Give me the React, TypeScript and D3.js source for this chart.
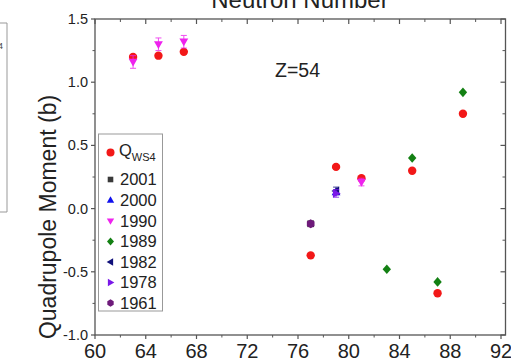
import React from "react";
import * as d3 from "d3";

const seriesNames = ["QWS4", "2001", "2000", "1990", "1989", "1982", "1978", "1961"];
const seriesColors = ["#f21818", "#3a3a3a", "#1010ee", "#ee22ee", "#138013", "#10107a", "#7a18e8", "#6e1a7a"];
const seriesShapes = ["circle", "square", "triUp", "triDown", "diamond", "triLeft", "triRight", "hexagon"];

const qws4N = [63, 65, 67, 77, 79, 81, 85, 87, 89];
const qws4Q = [1.20, 1.21, 1.24, -0.37, 0.33, 0.24, 0.30, -0.67, 0.75];
const y2001N = [77];
const y2001Q = [-0.12];
const y2000N = [79];
const y2000Q = [0.13];
const y1990N = [63, 65, 67, 81];
const y1990Q = [1.16, 1.30, 1.32, 0.21];
const y1990E = [0.05, 0.05, 0.05, 0.03];
const y1989N = [83, 85, 87, 89];
const y1989Q = [-0.48, 0.40, -0.58, 0.92];
const y1982N = [79];
const y1982Q = [0.14];
const y1982E = [0.03];
const y1978N = [79];
const y1978Q = [0.12];
const y1978E = [0.03];
const y1961N = [77];
const y1961Q = [-0.12];

const xMajor = [60, 64, 68, 72, 76, 80, 84, 88, 92];
const xMinor = [62, 66, 70, 74, 78, 82, 86, 90];
const yMajor = [-1.0, -0.5, 0.0, 0.5, 1.0, 1.5];
const yMinor = [-0.75, -0.25, 0.25, 0.75, 1.25];

const seriesN = [qws4N, y2001N, y2000N, y1990N, y1989N, y1982N, y1978N, y1961N];
const seriesQ = [qws4Q, y2001Q, y2000Q, y1990Q, y1989Q, y1982Q, y1978Q, y1961Q];
const seriesE: (number[] | null)[] = [null, null, null, y1990E, null, y1982E, y1978E, null];

const FONT = "'Liberation Sans', Arial, sans-serif";

function shapePath(shape: string, s: number): string {
  switch (shape) {
    case "circle":
      return d3.symbol(d3.symbolCircle, Math.PI * s * s)() as string;
    case "square":
      return `M${-s * 0.8},${-s * 0.8}H${s * 0.8}V${s * 0.8}H${-s * 0.8}Z`;
    case "triUp":
      return `M0,${-s * 1.1}L${s * 1.05},${s * 0.75}L${-s * 1.05},${s * 0.75}Z`;
    case "triDown":
      return `M0,${s * 1.1}L${s * 1.05},${-s * 0.75}L${-s * 1.05},${-s * 0.75}Z`;
    case "triLeft":
      return `M${-s * 1.1},0L${s * 0.75},${-s * 1.05}L${s * 0.75},${s * 1.05}Z`;
    case "triRight":
      return `M${s * 1.1},0L${-s * 0.75},${-s * 1.05}L${-s * 0.75},${s * 1.05}Z`;
    case "diamond":
      return `M0,${-s * 1.15}L${s * 1.0},0L0,${s * 1.15}L${-s * 1.0},0Z`;
    case "hexagon": {
      const pts = d3.range(6).map((i) => {
        const a = (Math.PI / 3) * i + Math.PI / 6;
        return [Math.cos(a) * s * 1.05, Math.sin(a) * s * 1.05];
      });
      return "M" + pts.map((p) => p.join(",")).join("L") + "Z";
    }
  }
  return "";
}

export default function App() {
  const W = 511, H = 363;
  const x = d3.scaleLinear().domain([60, 92]).range([95, 501]);
  const y = d3.scaleLinear().domain([-1, 1.5]).range([335, 19]);
  const left = 95, right = 505.5, top = 19, bottom = 335;
  const axisColor = "#555";
  const r = 4.2;

  const legendRows = [152.5, 179.5, 200, 221, 241.5, 262, 282.5, 303];

  return (
    <svg width={W} height={H} style={{ position: "absolute", left: 0, top: 0, background: "#fff" }} fontFamily={FONT}>
      {/* neighbouring panel fragment */}
      <path d="M0,23H7V212H0" fill="none" stroke="#999" strokeWidth={1} />
      <text x={-2} y={49} fontSize={9} fill="#444">4</text>

      {/* title (cropped) */}
      <text x={300} y={8} textAnchor="middle" fontSize={24} fill="#222">Neutron Number</text>

      {/* frame */}
      <rect x={left} y={top} width={right - left} height={bottom - top} fill="none" stroke={axisColor} strokeWidth={1.3} />

      {/* bottom ticks */}
      {xMajor.map((v) => (
        <g key={"xb" + v}>
          <line x1={x(v)} x2={x(v)} y1={bottom} y2={bottom + 4} stroke={axisColor} strokeWidth={1.2} />
          <line x1={x(v)} x2={x(v)} y1={top} y2={top + 5} stroke={axisColor} strokeWidth={1.2} />
          <text x={x(v)} y={358} textAnchor="middle" fontSize={20} fill="#222">{v}</text>
        </g>
      ))}
      {xMinor.map((v) => (
        <g key={"xm" + v}>
          <line x1={x(v)} x2={x(v)} y1={bottom} y2={bottom + 2.5} stroke={axisColor} strokeWidth={1} />
          <line x1={x(v)} x2={x(v)} y1={top} y2={top + 3} stroke={axisColor} strokeWidth={1} />
        </g>
      ))}
      {/* left/right ticks */}
      {yMajor.map((v) => (
        <g key={"yl" + v}>
          <line x1={left - 4} x2={left} y1={y(v)} y2={y(v)} stroke={axisColor} strokeWidth={1.2} />
          <line x1={right - 5} x2={right} y1={y(v)} y2={y(v)} stroke={axisColor} strokeWidth={1.2} />
          <text x={88} y={y(v) + 5} textAnchor="end" fontSize={14.5} fill="#222">{v.toFixed(1)}</text>
        </g>
      ))}
      {yMinor.map((v) => (
        <g key={"ym" + v}>
          <line x1={left - 2.5} x2={left} y1={y(v)} y2={y(v)} stroke={axisColor} strokeWidth={1} />
          <line x1={right - 3} x2={right} y1={y(v)} y2={y(v)} stroke={axisColor} strokeWidth={1} />
        </g>
      ))}

      {/* y axis title */}
      <text transform={`translate(56,${(top + bottom) / 2 + 40}) rotate(-90)`} textAnchor="middle" fontSize={23} fill="#222">
        Quadrupole Moment (b)
      </text>

      <text x={275} y={77} fontSize={19.5} fill="#222">Z=54</text>

      {/* data */}
      {seriesNames.map((name, si) => (
        <g key={name}>
          {seriesN[si].map((n, i) => {
            const cx = x(n), cy = y(seriesQ[si][i]);
            const e = seriesE[si];
            return (
              <g key={i}>
                {e && (
                  <g stroke={seriesColors[si]} strokeWidth={1} opacity={0.8}>
                    <line x1={cx} x2={cx} y1={y(seriesQ[si][i] + e[i])} y2={y(seriesQ[si][i] - e[i])} />
                    <line x1={cx - 3} x2={cx + 3} y1={y(seriesQ[si][i] + e[i])} y2={y(seriesQ[si][i] + e[i])} />
                    <line x1={cx - 3} x2={cx + 3} y1={y(seriesQ[si][i] - e[i])} y2={y(seriesQ[si][i] - e[i])} />
                  </g>
                )}
                <path d={shapePath(seriesShapes[si], r)} transform={`translate(${cx},${cy})`} fill={seriesColors[si]} />
              </g>
            );
          })}
        </g>
      ))}

      {/* legend */}
      <rect x={98.5} y={134} width={64} height={177} fill="#fff" stroke="#999" strokeWidth={1} />
      {seriesNames.map((name, si) => (
        <g key={"lg" + name}>
          <path d={shapePath(seriesShapes[si], si === 0 ? 4 : 3.5)} transform={`translate(110.5,${legendRows[si]})`} fill={seriesColors[si]} />
          {si === 0 ? (
            <text x={119} y={155.5} fontSize={16.5} fill="#222">
              Q<tspan fontSize={11} dy={5}>WS4</tspan>
            </text>
          ) : (
            <text x={120} y={legendRows[si] + 5.8} fontSize={16.5} fill="#222">{name}</text>
          )}
        </g>
      ))}
    </svg>
  );
}
